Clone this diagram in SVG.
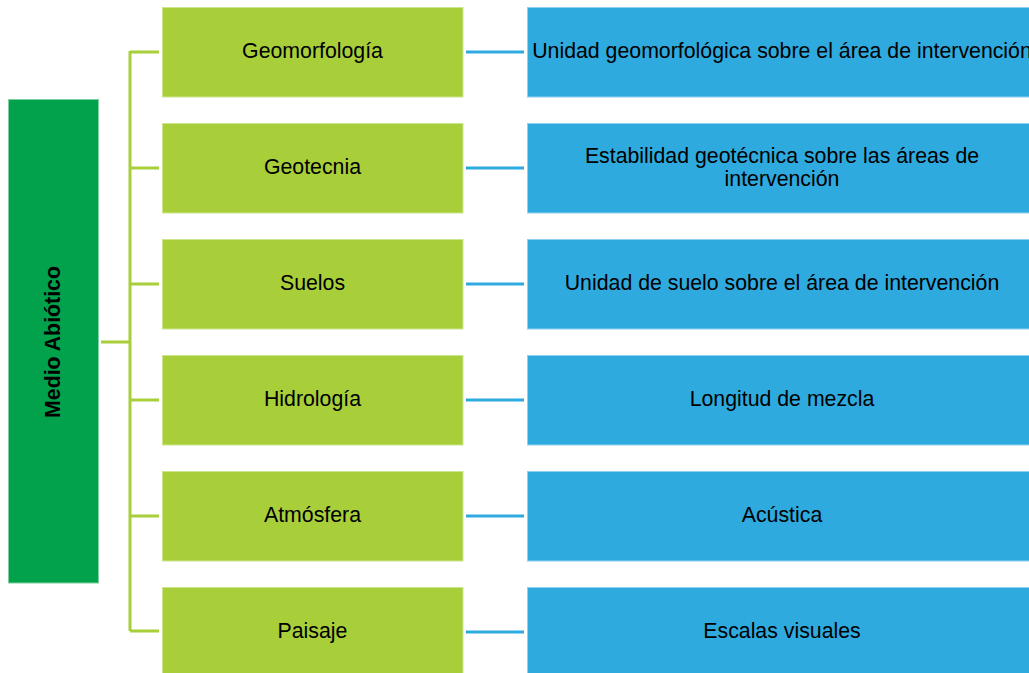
<svg xmlns="http://www.w3.org/2000/svg" width="1029" height="673" viewBox="0 0 1029 673">
<style>
.root{fill:#02A14B;stroke:#7FD0A0;stroke-width:1}
.cat{fill:#A8CF3A;stroke:#CDE58E;stroke-width:1}
.det{fill:#2EAADF;stroke:#8FD0EE;stroke-width:1}
.t{font-family:"Liberation Sans",Arial,sans-serif;font-size:21.3px;fill:#000;text-anchor:middle;dominant-baseline:central}
.rt{font-family:"Liberation Sans",Arial,sans-serif;font-size:21.3px;font-weight:bold;fill:#000;text-anchor:middle;dominant-baseline:central}
.g{stroke:#A8CF3A;stroke-width:3;fill:none}
.b{stroke:#2EAADF;stroke-width:3;fill:none}
</style>
<rect width="1029" height="673" fill="#fff"/>
<g id="connectors">
<path class="g" d="M101 342H130M130 51V631M130 52H159M130 168H159M130 284H159M130 400H159M130 516H159M130 631H159"/>
<path class="b" d="M466 52H524M466 168H524M466 284H524M466 400H524M466 516H524M466 632H524"/>
</g>
<g id="root">
<rect class="root" x="8.5" y="99.5" width="90" height="483.5"/>
<text class="rt" transform="translate(53 342) rotate(-90)">Medio Abiótico</text>
</g>
<g id="geomorfologia">
<rect class="cat" x="162.5" y="7.5" width="300.5" height="89.5"/>
<text class="t" x="312.5" y="51">Geomorfología</text>
</g>
<g id="geotecnia">
<rect class="cat" x="162.5" y="123.5" width="300.5" height="89.5"/>
<text class="t" x="312.5" y="167">Geotecnia</text>
</g>
<g id="suelos">
<rect class="cat" x="162.5" y="239.5" width="300.5" height="89.5"/>
<text class="t" x="312.5" y="283">Suelos</text>
</g>
<g id="hidrologia">
<rect class="cat" x="162.5" y="355.5" width="300.5" height="89.5"/>
<text class="t" x="312.5" y="399">Hidrología</text>
</g>
<g id="atmosfera">
<rect class="cat" x="162.5" y="471.5" width="300.5" height="89.5"/>
<text class="t" x="312.5" y="515">Atmósfera</text>
</g>
<g id="paisaje">
<rect class="cat" x="162.5" y="587.5" width="300.5" height="89.5"/>
<text class="t" x="312.5" y="631">Paisaje</text>
</g>
<g id="unidad-geomorfologica">
<rect class="det" x="527.5" y="7.5" width="510" height="89.5"/>
<text class="t" x="782" y="51">Unidad geomorfológica sobre el área de intervención</text>
</g>
<g id="estabilidad">
<rect class="det" x="527.5" y="123.5" width="510" height="89.5"/>
<text class="t" x="782" y="156">Estabilidad geotécnica sobre las áreas de</text>
<text class="t" x="782" y="179">intervención</text>
</g>
<g id="unidad-suelo">
<rect class="det" x="527.5" y="239.5" width="510" height="89.5"/>
<text class="t" x="782" y="283">Unidad de suelo sobre el área de intervención</text>
</g>
<g id="longitud">
<rect class="det" x="527.5" y="355.5" width="510" height="89.5"/>
<text class="t" x="782" y="399">Longitud de mezcla</text>
</g>
<g id="acustica">
<rect class="det" x="527.5" y="471.5" width="510" height="89.5"/>
<text class="t" x="782" y="515">Acústica</text>
</g>
<g id="escalas">
<rect class="det" x="527.5" y="587.5" width="510" height="89.5"/>
<text class="t" x="782" y="631">Escalas visuales</text>
</g>
</svg>
